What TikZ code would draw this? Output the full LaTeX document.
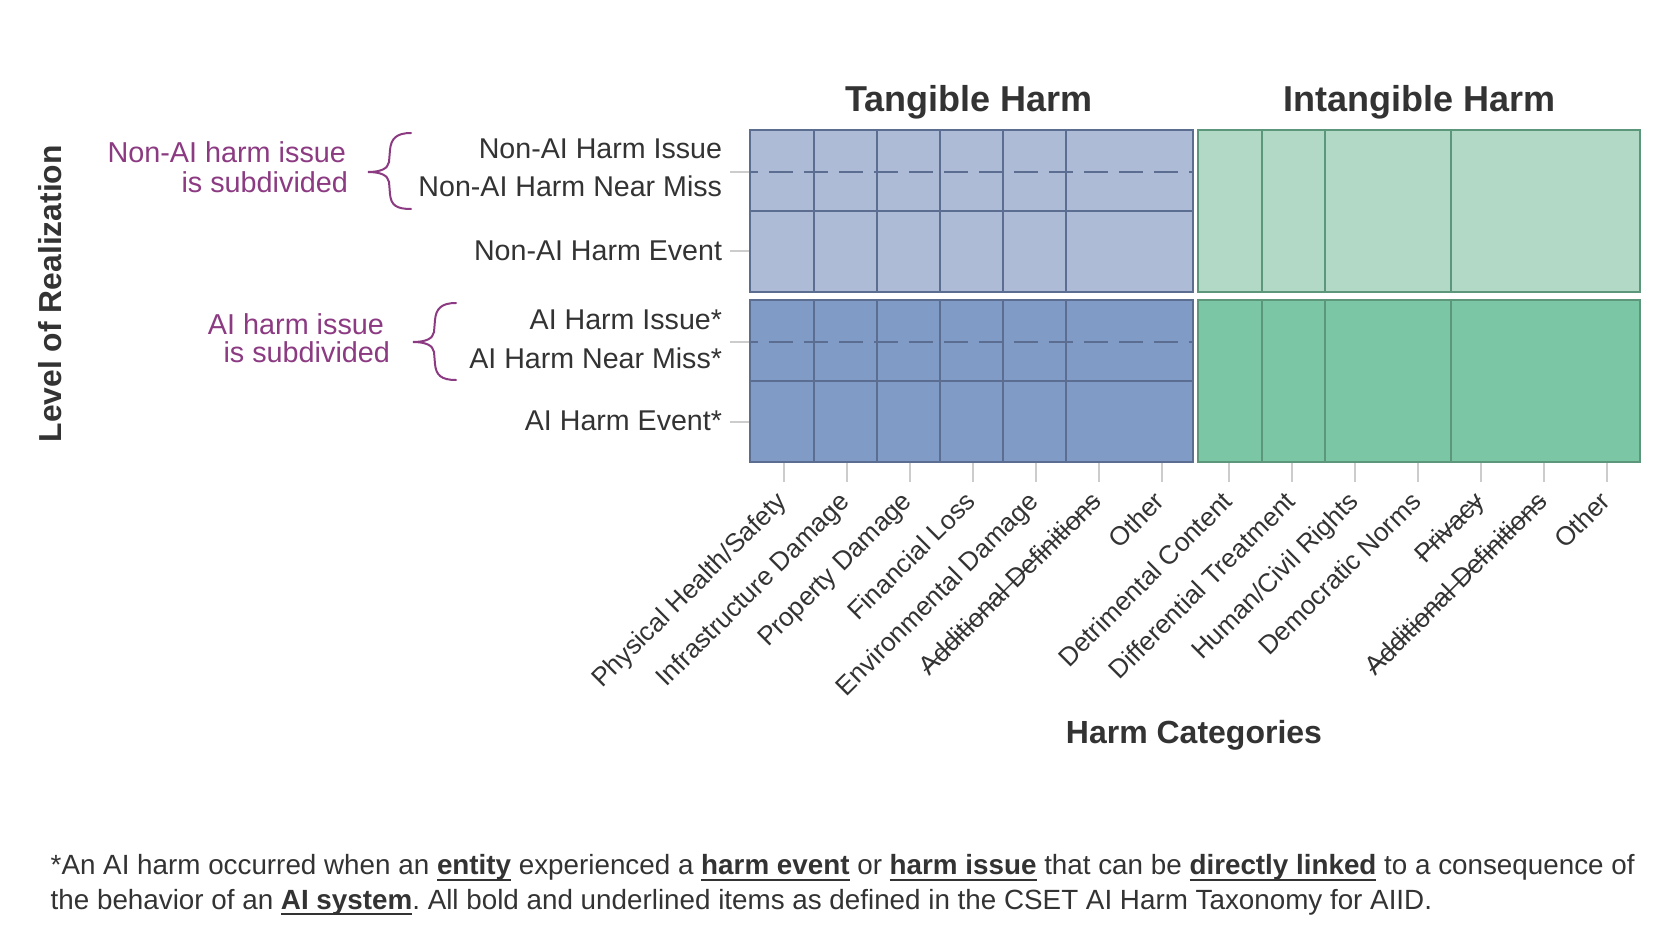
\documentclass[tikz,border=0pt]{standalone}
\usepackage{fontspec}
\setmainfont{Liberation Sans}
\definecolor{lblue}{HTML}{ADBBD6}
\definecolor{dblue}{HTML}{809CC6}
\definecolor{bline}{HTML}{5B6E91}
\definecolor{lgreen}{HTML}{B2D9C6}
\definecolor{dgreen}{HTML}{7AC6A5}
\definecolor{gline}{HTML}{5C977B}
\definecolor{txt}{HTML}{333333}
\definecolor{purp}{HTML}{8C3B82}
\definecolor{tickc}{HTML}{CCCCCC}
\newsavebox{\mybox}
\newcommand{\bu}[1]{\sbox{\mybox}{\textbf{#1}}\rlap{\rule[-3pt]{\wd\mybox}{1pt}}\usebox{\mybox}}
\newcommand{\strk}[1]{\sbox{\mybox}{#1}\rlap{\rule[0.28em]{\wd\mybox}{0.7pt}}\usebox{\mybox}}
\frenchspacing
\begin{document}
\begin{tikzpicture}[x=0.5pt,y=-0.5pt,
  txtnode/.style={inner sep=0pt,outer sep=0pt,text=txt},
  rowlab/.style={txtnode,anchor=base east,font=\fontsize{14.3}{17}\selectfont},
  collab/.style={txtnode,anchor=north east,rotate=45,font=\fontsize{13.1}{16}\selectfont},
  note/.style={inner sep=0pt,outer sep=0pt,text=purp,anchor=base east,font=\fontsize{14.4}{17}\selectfont},
  title/.style={txtnode,anchor=base,font=\bfseries\fontsize{18}{21}\selectfont},
  axtitle/.style={txtnode,anchor=base,font=\bfseries\fontsize{16}{19}\selectfont},
  foot/.style={txtnode,anchor=base west,font=\fontsize{13.9}{16}\selectfont},
  cellline/.style={line width=1pt},
  gridtick/.style={tickc,line width=1pt},
  brace/.style={purp,line width=1pt,line cap=round}]
\useasboundingbox[fill=white] (0,0) rectangle (1669,925);

% axis ticks (left)
\foreach \y in {172,251.5,342,421.5}
  \draw[gridtick] (730,\y) -- (750,\y);
% axis ticks (bottom)
\foreach \i in {0,...,6}{
  \draw[gridtick] (783.5+63*\i,462) -- (783.5+63*\i,482);
  \draw[gridtick] (1229.4+63*\i,462) -- (1229.4+63*\i,482);
}

% blue blocks
\foreach \t/\f in {130/lblue,300/dblue}{
  \fill[\f] (750,\t) rectangle (1193,\t+162);
  \draw[bline,cellline,dash pattern=on 12pt off 5.5pt,dash phase=8pt] (750,\t+42) -- (1193,\t+42);
  \draw[bline,cellline] (750,\t+81) -- (1193,\t+81);
  \foreach \x in {813.7,876.7,940,1003,1065.7}
    \draw[bline,cellline] (\x,\t) -- (\x,\t+162);
  \draw[bline,cellline] (750,\t) rectangle (1193,\t+162);
}
% green blocks
\foreach \t/\f in {130/lgreen,300/dgreen}{
  \fill[\f] (1198,\t) rectangle (1640,\t+162);
  \foreach \x in {1262,1325,1451}
    \draw[gline,cellline] (\x,\t) -- (\x,\t+162);
  \draw[gline,cellline] (1198,\t) rectangle (1640,\t+162);
}

% titles
\node[title] (tang) at (969.2,111.5) {Tangible Harm};
\node[title] (intang) at (1419.7,111.5) {Intangible Harm};
\node[axtitle] (hc) at (1194,743) {Harm Categories};
\node[txtnode,anchor=base,rotate=90,font=\bfseries\fontsize{15.9}{19}\selectfont] (lor) at (61,293.7) {Level of Realization};

% row labels
\node[rowlab] (r1) at (722,158.5) {Non-AI Harm Issue};
\node[rowlab] (r2) at (722,197) {Non-AI Harm Near Miss};
\node[rowlab] (r3) at (722,260.5) {Non-AI Harm Event};
\node[rowlab] (r4) at (722,329.5) {AI Harm Issue*};
\node[rowlab] (r5) at (722,368.7) {AI Harm Near Miss*};
\node[rowlab] (r6) at (722,430) {AI Harm Event*};

% purple notes
\node[note] (n1a) at (346,163) {Non-AI harm issue};
\node[note] (n1b) at (348,193) {is subdivided};
\node[note] (n2a) at (384,334) {AI harm issue};
\node[note] (n2b) at (390,362) {is subdivided};
\draw[brace] (411,133) .. controls (396,133) and (391,139) .. (390,150) -- (389,162)
  .. controls (388,169) and (380,172) .. (368,172)
  .. controls (380,172) and (388,175) .. (389,182) -- (390,194)
  .. controls (391,205) and (396,209) .. (411,209);
\draw[brace] (456,303) .. controls (441,303) and (436,309) .. (435,320) -- (434,332)
  .. controls (433,339) and (425,342) .. (413,342)
  .. controls (425,342) and (433,345) .. (434,352) -- (435,364)
  .. controls (436,375) and (441,380) .. (456,380);

% column labels
\node[collab] (c1) at (774.5,490) {Physical Health/Safety};
\node[collab] (c2) at (837.5,490) {Infrastructure Damage};
\node[collab] (c3) at (900.5,490) {Property Damage};
\node[collab] (c4) at (963.5,490) {Financial Loss};
\node[collab] (c5) at (1026.5,490) {Environmental Damage};
\node[collab] (c6) at (1089.5,490) {\strk{Additional Definitions}};
\node[collab] (c7) at (1152.5,490) {Other};
\node[collab] (d1) at (1220.4,490) {Detrimental Content};
\node[collab] (d2) at (1283.4,490) {Differential Treatment};
\node[collab] (d3) at (1346.4,490) {Human/Civil Rights};
\node[collab] (d4) at (1409.4,490) {Democratic Norms};
\node[collab] (d5) at (1472.4,490) {\strk{Privacy}};
\node[collab] (d6) at (1535.4,490) {\strk{Additional Definitions}};
\node[collab] (d7) at (1598.4,490) {Other};

% footnote
\node[foot] (f1) at (50.7,874.5) {*An AI harm occurred when an \bu{entity} experienced a \bu{harm event} or \bu{harm issue} that can be \bu{directly linked} to a consequence of};
\node[foot] (f2) at (50.7,909) {the behavior of an \bu{AI system}. All bold and underlined items as defined in the CSET AI Harm Taxonomy for AIID.};
\end{tikzpicture}
\end{document}
